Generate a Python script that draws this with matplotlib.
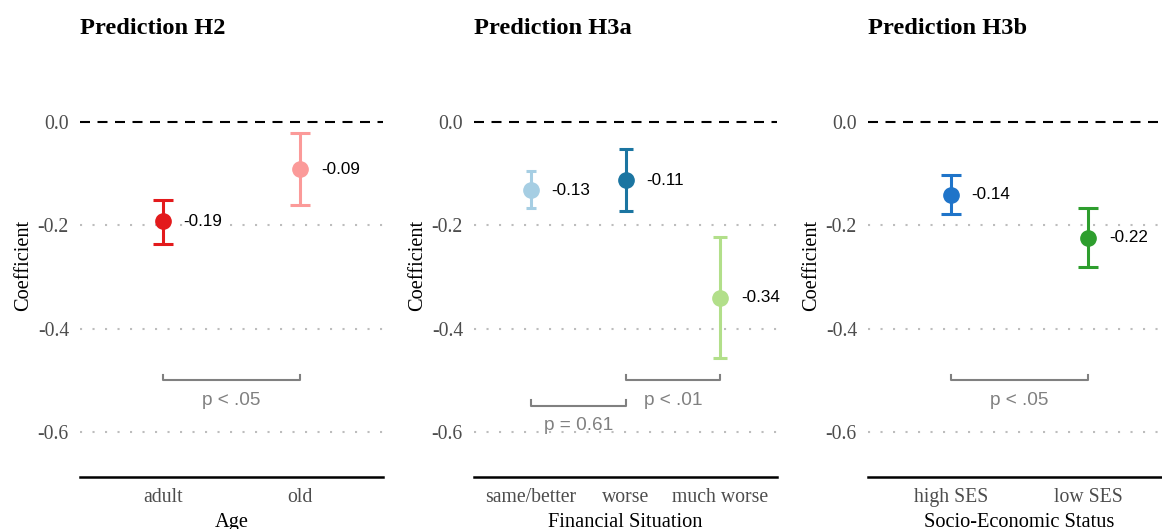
import matplotlib
matplotlib.use("Agg")
import matplotlib.pyplot as plt

# ---- data ----
titles = ["Prediction H2", "Prediction H3a", "Prediction H3b"]
x_titles = ["Age", "Financial Situation", "Socio-Economic Status"]

age_groups = ["adult", "old"]
age_est = [-0.192, -0.091]
age_low = [-0.235, -0.161]
age_high = [-0.150, -0.020]

fin_groups = ["same/better", "worse", "much worse"]
fin_est = [-0.132, -0.112, -0.340]
fin_low = [-0.167, -0.172, -0.457]
fin_high = [-0.094, -0.052, -0.223]

ses_groups = ["high SES", "low SES"]
ses_est = [-0.140, -0.224]
ses_low = [-0.177, -0.281]
ses_high = [-0.103, -0.167]

# comparisons: (from index, to index, bracket level, label)
age_tests = [(0, 1, -0.50, "p < .05")]
fin_tests = [(0, 1, -0.549, "p = 0.61"), (1, 2, -0.50, "p < .01")]
ses_tests = [(0, 1, -0.50, "p < .05")]

y_ticks = [0.0, -0.2, -0.4, -0.6]

# ---- styling ----
age_colors = ["#e31a1c", "#fb9a99"]
fin_colors = ["#a6cee3", "#1b75a1", "#b2df8a"]
ses_colors = ["#1f74c9", "#2e9e2e"]
age_caps = [7.2, 7.2]
fin_caps = [3.3, 5.3, 5.3]
ses_caps = [7.4, 7.4]

SERIF = "Liberation Serif"
SANS = "Liberation Sans"

panels = [
    (age_groups, age_est, age_low, age_high, age_tests, age_colors, age_caps),
    (fin_groups, fin_est, fin_low, fin_high, fin_tests, fin_colors, fin_caps),
    (ses_groups, ses_est, ses_low, ses_high, ses_tests, ses_colors, ses_caps),
]

W, H = 1162, 529
fig = plt.figure(figsize=(W / 100, H / 100), dpi=100)

lefts = [80, 474, 868]
ax_w = 303
ax_bottom = 477
ax_top = 53

for i, (groups, est, low, high, tests, colors, caps) in enumerate(panels):
    ax = fig.add_axes([lefts[i] / W, (H - ax_bottom) / H,
                       ax_w / W, (ax_bottom - ax_top) / H])
    n = len(groups)
    xs = list(range(n))

    # gridlines and zero reference
    for t in y_ticks[1:]:
        ax.axhline(t, color="#bdbdbd", lw=1.5, ls=(0, (1, 5)), zorder=0)
    ax.axhline(0, color="black", lw=1.5, ls=(0, (4.8, 3.6)), zorder=1)

    for x, e, lo, hi, c, cs in zip(xs, est, low, high, colors, caps):
        ax.errorbar([x], [e], yerr=[[e - lo], [hi - e]], fmt="o", color=c,
                    ms=11, lw=2.2, capsize=cs, capthick=2.2, zorder=3)
        ax.annotate(f"{e:.2f}", (x, e), xytext=(15, 0), textcoords="offset points",
                    ha="left", va="center", fontsize=12.3, family=SANS,
                    color="black", zorder=4)

    for a, b, lvl, lab in tests:
        ax.plot([a, a, b, b], [lvl + 0.011, lvl, lvl, lvl + 0.011],
                color="#808080", lw=1.5, zorder=2)
        ax.text((a + b) / 2, lvl - 0.038, lab, ha="center", va="center",
                fontsize=13.7, family=SANS, color="#808080", zorder=2)

    ax.set_xlim(-0.6, n - 1 + 0.6)
    ax.set_ylim(-0.687, 0.134)
    ax.set_xticks(xs)
    ax.set_xticklabels(groups)
    ax.set_yticks(y_ticks)
    ax.set_yticklabels([f"{t:.1f}" for t in y_ticks])
    ax.tick_params(length=0, labelsize=14.2, labelcolor="#4d4d4d")
    ax.tick_params(axis="y", pad=8)
    ax.tick_params(axis="x", pad=8)
    for lab in ax.get_xticklabels() + ax.get_yticklabels():
        lab.set_family(SERIF)

    for s in ["top", "right", "left"]:
        ax.spines[s].set_visible(False)
    ax.spines["bottom"].set_linewidth(1.8)
    ax.spines["bottom"].set_color("black")

    ax.set_xlabel(x_titles[i], family=SERIF, fontsize=14.7, labelpad=4)
    ax.set_ylabel("Coefficient", family=SERIF, fontsize=14.7, labelpad=3)
    ax.patch.set_visible(False)

    fig.text(lefts[i] / W, 1 - 29 / H, titles[i], family=SERIF,
             fontweight="bold", fontsize=17.6, ha="left", va="center")

fig.savefig("out.png", dpi=100)
